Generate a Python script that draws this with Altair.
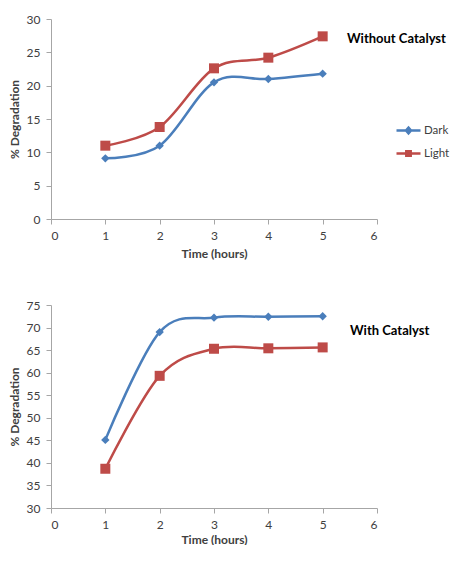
import altair as alt
import pandas as pd

hours = [1, 2, 3, 4, 5]

# Without catalyst
top_dark = [9.1, 11.0, 20.5, 21.0, 21.8]
top_light = [11.0, 13.8, 22.6, 24.2, 27.4]

# With catalyst
bot_light = [45.1, 69.0, 72.2, 72.4, 72.5]
bot_dark = [38.7, 59.3, 65.3, 65.4, 65.6]

x_ticks = [0, 1, 2, 3, 4, 5, 6]
top_y_ticks = [0, 5, 10, 15, 20, 25, 30]
bot_y_ticks = [30, 35, 40, 45, 50, 55, 60, 65, 70, 75]

BLUE = "#4A7EBB"
RED = "#BE4B48"
FONT = "Lato"

DIAMOND_LEG = "M-1.2,0H1.2M0,-0.28L0.25,0L0,0.28L-0.25,0Z"
SQUARE_LEG = "M-1.2,0H1.2M-0.22,-0.22H0.22V0.22H-0.22Z"


def panel(series, height, y_ticks, title_text, title_xy, legend_xy, x_title_pad):
    rows = []
    for name, vals, color, shape, size in series:
        for h, v in zip(hours, vals):
            rows.append({"hours": h, "value": v, "series": name})
    df = pd.DataFrame(rows)
    names = [s[0] for s in series]

    x = alt.X("hours:Q", title="Time (hours)",
              scale=alt.Scale(domain=[x_ticks[0], x_ticks[-1]], nice=False),
              axis=alt.Axis(values=x_ticks, format="d", titlePadding=x_title_pad))
    y = alt.Y("value:Q", title="% Degradation",
              scale=alt.Scale(domain=[y_ticks[0], y_ticks[-1]], nice=False, zero=False),
              axis=alt.Axis(values=y_ticks, format="d", titlePadding=5))

    base = alt.Chart(df)
    layers = []
    for name, vals, color, shape, size in series:
        sub = base.transform_filter(alt.datum.series == name)
        layers.append(sub.mark_line(interpolate="cardinal", strokeWidth=2.5, color=color)
                      .encode(x=x, y=y))
    for name, vals, color, shape, size in series:
        sub = base.transform_filter(alt.datum.series == name)
        layers.append(sub.mark_point(shape=shape, filled=True, size=size, color=color, opacity=1)
                      .encode(x=x, y=y))

    leg = alt.Legend(title=None, orient="none", legendX=legend_xy[0], legendY=legend_xy[1],
                     symbolSize=400, symbolStrokeWidth=2.5, labelFont=FONT,
                     labelFontSize=11.5, labelColor="#404040", labelOffset=4,
                     rowPadding=3)
    legend_layer = base.mark_point(filled=False, opacity=0, strokeWidth=2.5).encode(
        x=x, y=y,
        color=alt.Color("series:N", sort=names,
                        scale=alt.Scale(domain=names, range=[s[2] for s in series]),
                        legend=leg),
        shape=alt.Shape("series:N", sort=names,
                        scale=alt.Scale(domain=names,
                                        range=[DIAMOND_LEG if s[3] == "diamond" else SQUARE_LEG for s in series]),
                        legend=leg),
    )
    layers.append(legend_layer)

    txt = alt.Chart(pd.DataFrame({"t": [title_text]})).mark_text(
        align="left", baseline="middle", font=FONT, fontWeight="bold", fontSize=13, color="#000000"
    ).encode(text="t:N", x=alt.value(title_xy[0]), y=alt.value(title_xy[1]))
    layers.append(txt)

    return alt.layer(*layers).properties(width=326, height=height)


top = panel(
    [("Dark", top_dark, BLUE, "diamond", 70), ("Light", top_light, RED, "square", 100)],
    200, top_y_ticks, "Without Catalyst", (296, 20), (346, 100), 7,
)
bottom = panel(
    [("Light", bot_light, BLUE, "diamond", 70), ("Dark", bot_dark, RED, "square", 100)],
    203, bot_y_ticks, "With Catalyst", (299, 26), (346, 106), 4,
)

chart = alt.vconcat(top, bottom, spacing=40).properties(
    padding={"left": 0, "top": 5, "right": 0, "bottom": 0}
).configure_view(strokeWidth=0).configure_axis(
    grid=False,
    domainColor="#A6A6A6",
    tickColor="#A6A6A6",
    tickSize=5,
    labelFont=FONT,
    labelFontSize=12,
    labelColor="#404040",
    labelPadding=6,
    titleFont=FONT,
    titleFontSize=12,
    titleFontWeight="bold",
    titleColor="#404040",
)

chart.save("out.html", embed_options={"renderer": "svg", "actions": False})
